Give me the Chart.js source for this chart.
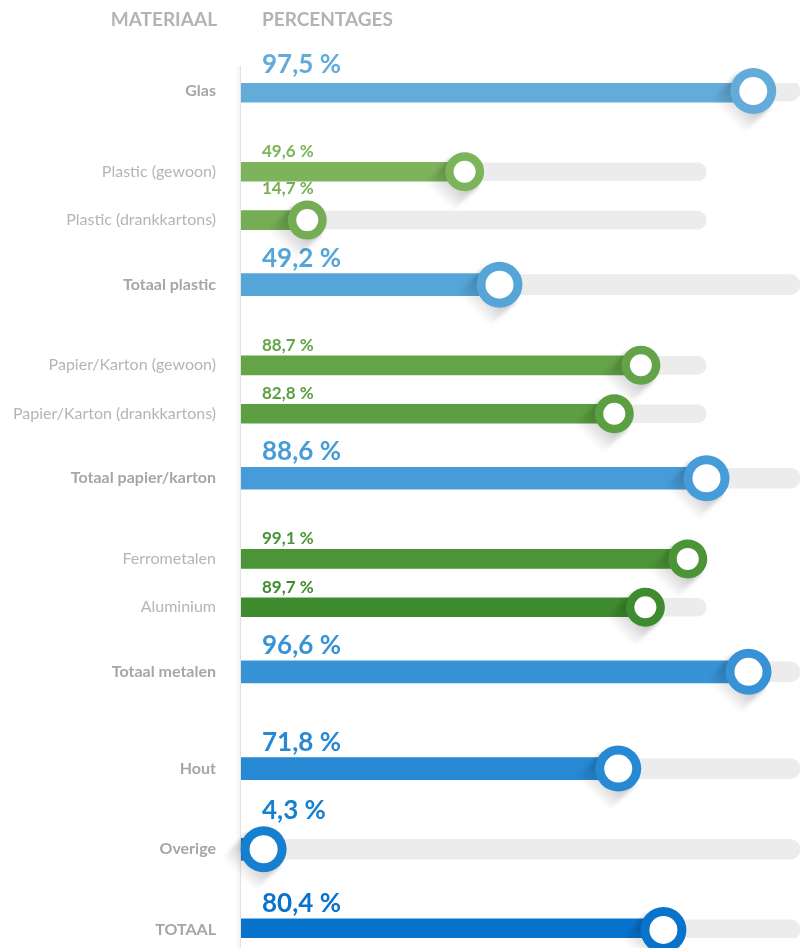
<!DOCTYPE html>
<html>
<head>
<meta charset="utf-8">
<script src="https://cdn.jsdelivr.net/npm/chart.js@4/dist/chart.umd.min.js"></script>
<style>
    html, body { margin: 0; padding: 0; background: #ffffff; overflow: hidden; }
    #wrap { position: relative; width: 801px; height: 948px; }
    #chartRecycling { display: block; }
</style>
</head>
<body>
<div id="wrap"><canvas id="chartRecycling"></canvas></div>
<script>
/* ----------------------------------------------------------------------------
                                     DATA
---------------------------------------------------------------------------- */
var materials = ['Glas', 'Plastic (gewoon)', 'Plastic (drankkartons)', 'Totaal plastic',
    'Papier/Karton (gewoon)', 'Papier/Karton (drankkartons)', 'Totaal papier/karton',
    'Ferrometalen', 'Aluminium', 'Totaal metalen', 'Hout', 'Overige', 'TOTAAL'];
var percentages = [97.5, 49.6, 14.7, 49.2, 88.7, 82.8, 88.6, 99.1, 89.7, 96.6, 71.8, 4.3, 80.4];
// 'main' rows are the blue totals, 'sub' rows the green detail lines
var rowGroup = ['main', 'sub', 'sub', 'main', 'sub', 'sub', 'main', 'sub', 'sub', 'main', 'main', 'main', 'main'];
var headers = ['MATERIAAL', 'PERCENTAGES'];

/* ----------------------------------------------------------------------------
                                    STYLE
---------------------------------------------------------------------------- */
var rowGap = [0, 4, 2, 3, 4, 2, 3, 4, 2, 3, 5, 4, 4];   // empty slots above each row
var rowColors = ['#63acd9', '#7cb35b', '#74ad53', '#55a5d9', '#64a348', '#5c9e42', '#469cd9',
    '#4b9538', '#3e8b30', '#3793d6', '#2789d3', '#167fcf', '#0873cc'];
var FONT = 'Lato, "Open Sans", sans-serif';
var BLUE_MAX = 106.4;
var GREEN_MAX = 124;
var GREEN_TRACK = 103.2;

/* ----------------------------------------------------------------------------
                                  TABLES
---------------------------------------------------------------------------- */
var categories = [];
var mainValues = [], subValues = [], mainTrack = [], subTrack = [];
var slotRow = [];
for (var i = 0; i < materials.length; i++) {
    for (var g = 0; g < rowGap[i]; g++) {
        categories.push('');
        mainValues.push(null); subValues.push(null);
        mainTrack.push(null); subTrack.push(null);
        slotRow.push(-1);
    }
    categories.push(materials[i]);
    slotRow.push(i);
    if (rowGroup[i] == 'main') {
        mainValues.push(percentages[i]); subValues.push(null);
        mainTrack.push(BLUE_MAX); subTrack.push(null);
    } else {
        mainValues.push(null); subValues.push(percentages[i]);
        mainTrack.push(null); subTrack.push(GREEN_TRACK);
    }
}

function slotColor(ctx) {
    var r = slotRow[ctx.dataIndex];
    return r >= 0 ? rowColors[r] : '#000';
}

function formatPct(v) {
    return v.toFixed(1).replace('.', ',') + ' %';
}

/* ----------------------------------------------------------------------------
                                  PLUGIN
---------------------------------------------------------------------------- */
var decorPlugin = {
    id: 'decor',
    beforeDraw: function(chart) {
        var c = chart.ctx, area = chart.chartArea;
        c.save();
        // header
        c.font = 'bold 19px ' + FONT;
        c.fillStyle = '#b3b3b3';
        c.textBaseline = 'middle';
        c.textAlign = 'right';
        c.fillText(headers[0], area.left - 24, 20);
        c.textAlign = 'left';
        c.fillText(headers[1], area.left + 21, 20);
        // vertical guide line
        var grad = c.createLinearGradient(area.left - 6, 0, area.left, 0);
        grad.addColorStop(0, 'rgba(0,0,0,0)');
        grad.addColorStop(1, 'rgba(0,0,0,0.05)');
        c.fillStyle = grad;
        c.fillRect(area.left - 6, 66, 6, chart.height - 66);
        c.fillStyle = '#e2e2e2';
        c.fillRect(area.left - 1, 66, 1, chart.height - 66);
        c.restore();
    },
    afterDatasetsDraw: function(chart) {
        var c = chart.ctx, area = chart.chartArea;
        [0, 1].forEach(function(ds) {
            var meta = chart.getDatasetMeta(ds);
            var big = ds == 0;
            var rOut = big ? 23 : 19.5;
            var rIn = big ? 14 : 11;
            var thick = big ? 22 : 19;
            meta.data.forEach(function(el, idx) {
                var val = chart.data.datasets[ds].data[idx];
                if (val === null) return;
                var col = rowColors[slotRow[idx]];
                var cx = el.x, cy = el.y;
                c.save();
                // long shadow to the lower left
                var L = 36, k = Math.SQRT1_2;
                var px = rOut * k, py = rOut * k;
                var dx = -L * k, dy = L * k;
                var sg = c.createLinearGradient(cx, cy, cx + dx, cy + dy);
                sg.addColorStop(0, 'rgba(0,0,0,0.30)');
                sg.addColorStop(1, 'rgba(0,0,0,0)');
                c.filter = 'blur(2px)';
                c.beginPath();
                c.moveTo(cx + px, cy + py);
                c.lineTo(cx + px + dx, cy + py + dy);
                c.lineTo(cx - px + dx, cy - py + dy);
                c.lineTo(cx - px, cy - py);
                c.closePath();
                c.fillStyle = sg;
                c.fill();
                c.filter = 'none';
                // knob
                c.beginPath();
                c.arc(cx, cy, rOut, 0, Math.PI * 2);
                c.fillStyle = col;
                c.fill();
                c.beginPath();
                c.arc(cx, cy, rIn, 0, Math.PI * 2);
                c.fillStyle = '#ffffff';
                c.fill();
                // value label, lifted when the knob sits under it
                c.font = 'bold ' + (big ? 26 : 17) + 'px ' + FONT;
                var txt = formatPct(val);
                var tx = area.left + 21;
                var ty = cy - thick / 2 - (big ? 7 : 5);
                if (cx - rOut < tx + c.measureText(txt).width + 4) {
                    ty = Math.min(ty, cy - rOut - 7);
                }
                c.fillStyle = col;
                c.textAlign = 'left';
                c.textBaseline = 'alphabetic';
                c.fillText(txt, tx, ty);
                c.restore();
            });
        });
    }
};

/* ----------------------------------------------------------------------------
                                    MAIN
---------------------------------------------------------------------------- */
var ctx = document.getElementById('chartRecycling').getContext('2d');
var chartRecycling = new Chart(ctx, {
    type: 'bar',
    data: {
        labels: categories,
        datasets: [{
            data: mainValues,
            xAxisID: 'x',
            backgroundColor: slotColor,
            barThickness: 22,
            grouped: false,
            order: 1
        }, {
            data: subValues,
            xAxisID: 'x2',
            backgroundColor: slotColor,
            barThickness: 19,
            grouped: false,
            order: 1
        }, {
            data: mainTrack,
            xAxisID: 'x',
            backgroundColor: '#ececec',
            barThickness: 20,
            borderRadius: 10,
            grouped: false,
            order: 3
        }, {
            data: subTrack,
            xAxisID: 'x2',
            backgroundColor: '#ececec',
            barThickness: 18,
            borderRadius: 9,
            grouped: false,
            order: 3
        }]
    },
    options: {
        indexAxis: 'y',
        responsive: true,
        maintainAspectRatio: false,
        animation: false,
        layout: {
            padding: { top: 83, bottom: 10, left: 0, right: 1 }
        },
        plugins: {
            legend: { display: false },
            tooltip: { enabled: false }
        },
        scales: {
            x: { display: false, min: 0, max: BLUE_MAX },
            x2: { display: false, min: 0, max: GREEN_MAX },
            y: {
                afterFit: function(scale) {
                    scale.width = 241;
                    scale.paddingTop = 0;
                    scale.paddingBottom = 0;
                },
                grid: { display: false },
                border: { display: false },
                ticks: {
                    autoSkip: false,
                    padding: 17,
                    color: function(c) {
                        var r = slotRow[c.index];
                        return (r >= 0 && rowGroup[r] == 'main') ? '#a6a6a6' : '#b5b5b5';
                    },
                    font: function(c) {
                        var r = slotRow[c.index];
                        var bold = r >= 0 && rowGroup[r] == 'main';
                        return { family: FONT, size: 16, weight: bold ? 'bold' : 'normal' };
                    }
                }
            }
        }
    },
    plugins: [decorPlugin]
});
</script>
</body>
</html>
